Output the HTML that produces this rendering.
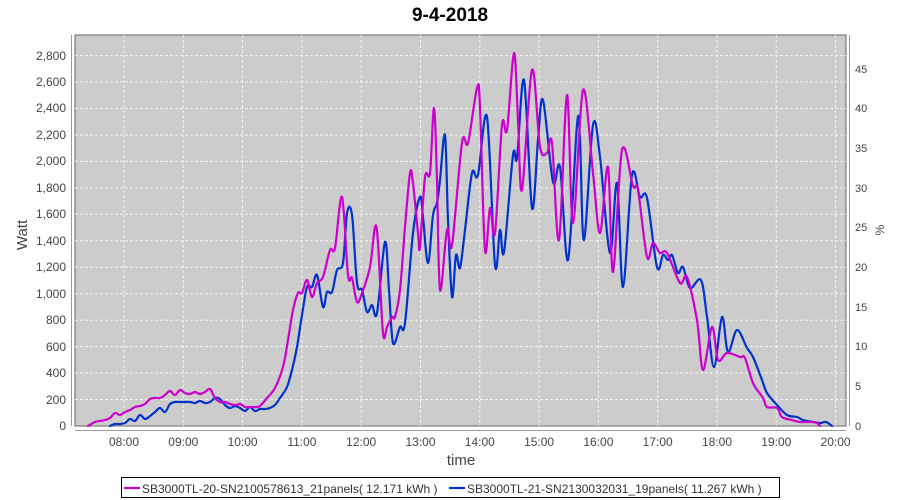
<!DOCTYPE html>
<html><head><meta charset="utf-8"><style>
body{margin:0;background:#fff;}
svg{display:block;font-family:"Liberation Sans","DejaVu Sans",sans-serif;}
</style></head><body>
<svg width="900" height="500" viewBox="0 0 900 500">
<text x="450" y="21" text-anchor="middle" font-size="19" font-weight="bold" fill="#000">9-4-2018</text>
<rect x="75" y="35" width="771" height="391" fill="#cccccc" stroke="#666" stroke-width="1"/>
<g stroke="#f2f2f2" stroke-width="1" stroke-dasharray="3,2" fill="none">
<path d="M75 399.5H846M75 373H846M75 346.6H846M75 320.2H846M75 293.7H846M75 267.2H846M75 240.8H846M75 214.3H846M75 187.9H846M75 161.4H846M75 135H846M75 108.5H846M75 82H846M75 55.6H846"/>
<path d="M124 35V426M183.3 35V426M242.6 35V426M301.9 35V426M361.2 35V426M420.5 35V426M479.8 35V426M539.1 35V426M598.4 35V426M657.7 35V426M717 35V426M776.3 35V426M835.6 35V426"/>
</g>
<g stroke="#999" stroke-width="1" fill="none">
<path d="M71.5 35V426M75 430.5H846M849.5 35V426"/>
</g>
<g font-size="12" fill="#444" text-anchor="end">
<text x="66" y="430">0</text><text x="66" y="404">200</text><text x="66" y="377">400</text><text x="66" y="351">600</text><text x="66" y="324">800</text><text x="66" y="298">1,000</text><text x="66" y="271">1,200</text><text x="66" y="245">1,400</text><text x="66" y="218">1,600</text><text x="66" y="192">1,800</text><text x="66" y="165">2,000</text><text x="66" y="139">2,200</text><text x="66" y="112">2,400</text><text x="66" y="86">2,600</text><text x="66" y="60">2,800</text>
</g>
<g font-size="11" fill="#444">
<text x="855" y="430">0</text><text x="855" y="390">5</text><text x="855" y="350">10</text><text x="855" y="311">15</text><text x="855" y="271">20</text><text x="855" y="231">25</text><text x="855" y="192">30</text><text x="855" y="152">35</text><text x="855" y="112">40</text><text x="855" y="73">45</text>
</g>
<g font-size="12" fill="#444" text-anchor="middle">
<text x="124" y="446">08:00</text><text x="183.3" y="446">09:00</text><text x="242.6" y="446">10:00</text><text x="301.9" y="446">11:00</text><text x="361.2" y="446">12:00</text><text x="420.5" y="446">13:00</text><text x="479.8" y="446">14:00</text><text x="539.1" y="446">15:00</text><text x="598.4" y="446">16:00</text><text x="657.7" y="446">17:00</text><text x="717" y="446">18:00</text><text x="776.3" y="446">19:00</text><text x="835.6" y="446">20:00</text>
</g>
<text x="461" y="465" text-anchor="middle" font-size="15" fill="#444">time</text>
<text transform="translate(27,235) rotate(-90)" text-anchor="middle" font-size="15" fill="#444">Watt</text>
<text transform="translate(884,230) rotate(-90)" text-anchor="middle" font-size="12" fill="#444">%</text>
<g fill="none" stroke-width="2.2" stroke-linejoin="round" stroke-linecap="round">
<polyline class="sm" stroke="#0033cc" points="110,426 115,424 120,424 125,423 130,419 135,421 140,415 145,419 150,416 155,412 160,408 165,412 170,404 175,402 180,402 185,402 190,402 195,403 200,401 205,403 210,402 215,398 220,399 225,405 230,408 235,406 240,408 245,411 250,407 255,411 260,409 265,409 270,408 275,405 280,398 287,387 292,370 297,347 302,315 307,287 312,287 317,275 323,307 327,292 332,292 337,270 343,263 347,213 352,215 357,283 362,290 367,312 372,305 377,313 385,242 389,290 393,343 400,327 405,323 413,233 420,197 423,217 428,263 433,215 437,203 440,180 445,135 448,220 452,297 456,255 460,268 465,230 472,173 478,175 487,117 495,265 500,230 504,252 513,155 517,158 524,80 532,208 538,140 543,100 553,182 560,167 568,260 577,125 580,140 584,240 593,125 600,157 610,253 617,183 623,287 632,175 640,197 647,198 657,267 663,255 668,260 672,255 678,273 683,267 690,288 701,280 707,317 714,367 722,317 728,352 737,330 747,348 753,357 762,380 767,393 777,405 787,415 797,417 803,420 813,422 820,423 826,422 832,426"/>
<polyline class="sm" stroke="#cc00cc" points="88,426 95,422 100,421 105,420 110,418 115,413 120,415 125,412 130,410 135,407 140,406 145,404 150,399 155,398 160,398 165,395 170,391 175,395 180,390 185,393 190,394 195,392 200,394 205,392 210,389 215,398 220,402 225,402 230,404 235,405 240,404 245,407 250,407 255,407 260,406 267,398 275,388 283,367 288,340 293,310 298,293 302,293 307,280 312,297 317,283 323,277 330,250 335,248 342,197 348,275 352,278 357,302 362,293 370,267 375,227 378,243 383,333 387,327 392,317 395,317 400,290 405,227 410,173 413,183 418,233 420,247 425,177 430,173 434,108 437,180 440,290 447,230 452,245 462,143 468,143 477,88 480,107 485,250 490,208 495,233 502,125 507,130 514,53 518,120 522,190 532,70 540,147 547,153 552,143 559,240 567,95 573,223 583,90 593,173 600,233 608,167 613,272 622,150 633,186 638,190 647,257 653,243 660,253 667,253 680,283 687,277 697,320 703,370 712,327 718,360 727,353 740,357 745,358 753,383 763,398 767,407 777,408 782,417 792,420 800,422 813,422 817,423 820,426"/>
</g>
<rect x="121.5" y="477.5" width="658" height="20" fill="#fff" stroke="#000" stroke-width="1"/>
<line x1="124" y1="488" x2="140" y2="488" stroke="#cc00cc" stroke-width="2.2"/>
<line x1="449" y1="488" x2="465" y2="488" stroke="#0033cc" stroke-width="2.2"/>
<text x="142" y="493" font-size="12" fill="#333">SB3000TL-20-SN2100578613_21panels( 12.171 kWh )</text>
<text x="467" y="493" font-size="12" fill="#333">SB3000TL-21-SN2130032031_19panels( 11.267 kWh )</text>
</svg>
<script>
document.querySelectorAll('polyline.sm').forEach(function(pl){
  var p=pl.getAttribute('points').trim().split(/\s+/).map(function(s){return s.split(',').map(Number);});
  var d='M'+p[0][0]+' '+p[0][1];
  for(var i=0;i<p.length-1;i++){
    var p0=p[i-1]||p[i],p1=p[i],p2=p[i+1],p3=p[i+2]||p2;
    var c1x=p1[0]+(p2[0]-p0[0])/6,c1y=p1[1]+(p2[1]-p0[1])/6;
    var c2x=p2[0]-(p3[0]-p1[0])/6,c2y=p2[1]-(p3[1]-p1[1])/6;
    d+=' C'+c1x.toFixed(1)+' '+c1y.toFixed(1)+' '+c2x.toFixed(1)+' '+c2y.toFixed(1)+' '+p2[0]+' '+p2[1];
  }
  var path=document.createElementNS('http://www.w3.org/2000/svg','path');
  path.setAttribute('d',d);
  path.setAttribute('stroke',pl.getAttribute('stroke'));
  pl.parentNode.replaceChild(path,pl);
});
</script>
</body></html>
